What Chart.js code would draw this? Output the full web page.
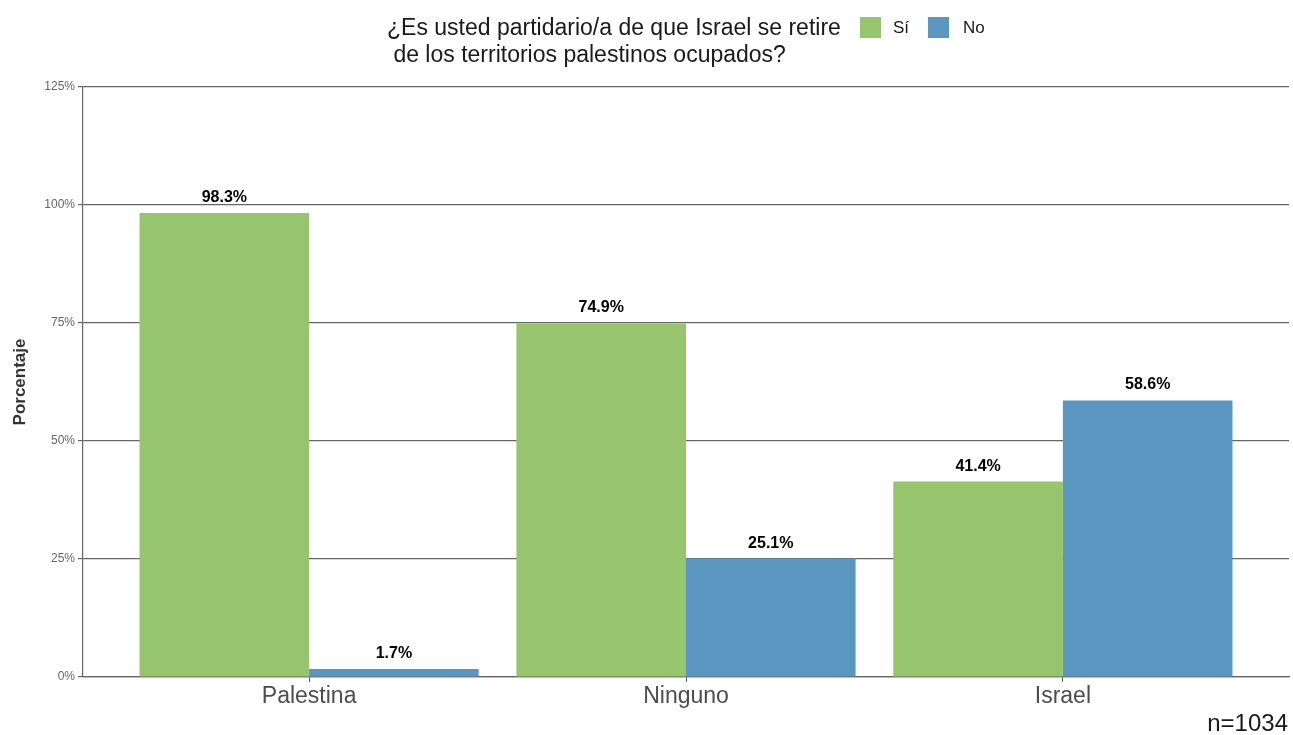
<!DOCTYPE html>
<html>
<head>
<meta charset="utf-8">
<script src="https://cdn.jsdelivr.net/npm/chart.js@4.4.1/dist/chart.umd.min.js"></script>
<style>
  html, body { margin: 0; padding: 0; background: #ffffff; }
  #wrap { width: 1293px; height: 735px; position: relative; }
</style>
</head>
<body>
<div id="wrap"><canvas id="c" width="1293" height="735"></canvas></div>
<script>
const categories = ['Palestina', 'Ninguno', 'Israel'];
const seriesNames = ['Sí', 'No'];
const siValues = [98.3, 74.9, 41.4];
const noValues = [1.7, 25.1, 58.6];
const yTicks = [0, 25, 50, 75, 100, 125];
const titleLines = ['¿Es usted partidario/a de que Israel se retire', ' de los territorios palestinos ocupados?'];
const caption = 'n=1034';
const yTitle = 'Porcentaje';

const colors = ['#97c46f', '#5b96c1'];
const FONT = '"Liberation Sans", Arial, sans-serif';

const headerPlugin = {
  id: 'header',
  afterDraw(chart) {
    const ctx = chart.ctx;
    ctx.save();
    ctx.fillStyle = '#1a1a1a';
    ctx.font = '23px ' + FONT;
    ctx.textAlign = 'left';
    ctx.textBaseline = 'alphabetic';
    ctx.fillText(titleLines[0], 387, 35);
    ctx.fillText(titleLines[1], 387, 62);
    // legend
    const items = [
      { box: 860, text: 893, label: seriesNames[0], color: colors[0] },
      { box: 928, text: 963, label: seriesNames[1], color: colors[1] }
    ];
    ctx.font = '17px ' + FONT;
    ctx.textBaseline = 'middle';
    items.forEach(it => {
      ctx.fillStyle = it.color;
      ctx.fillRect(it.box, 17, 21, 21);
      ctx.fillStyle = '#1a1a1a';
      ctx.fillText(it.label, it.text, 28);
    });
    // caption
    ctx.font = '24px ' + FONT;
    ctx.textAlign = 'right';
    ctx.textBaseline = 'alphabetic';
    ctx.fillStyle = '#1a1a1a';
    ctx.fillText(caption, 1288, 731);
    ctx.restore();
  }
};

const valueLabels = {
  id: 'valueLabels',
  afterDatasetsDraw(chart) {
    const ctx = chart.ctx;
    ctx.save();
    ctx.font = 'bold 16px ' + FONT;
    ctx.fillStyle = '#000000';
    ctx.textAlign = 'center';
    ctx.textBaseline = 'alphabetic';
    chart.data.datasets.forEach((ds, di) => {
      const meta = chart.getDatasetMeta(di);
      meta.data.forEach((bar, i) => {
        const v = ds.data[i].y;
        ctx.fillText(v.toFixed(1) + '%', bar.x, bar.y - 11);
      });
    });
    ctx.restore();
  }
};

const toPoints = arr => arr.map((v, i) => ({ x: i + 1, y: v }));

new Chart(document.getElementById('c'), {
  type: 'bar',
  data: {
    datasets: [
      { label: seriesNames[0], data: toPoints(siValues), backgroundColor: colors[0], categoryPercentage: 0.9, barPercentage: 1.0 },
      { label: seriesNames[1], data: toPoints(noValues), backgroundColor: colors[1], categoryPercentage: 0.9, barPercentage: 1.0 }
    ]
  },
  options: {
    responsive: false,
    animation: false,
    layout: { padding: { top: 87, right: 4, left: 0, bottom: 0 } },
    plugins: {
      legend: { display: false },
      tooltip: { enabled: false }
    },
    scales: {
      x: {
        type: 'linear',
        offset: false,
        min: 0.4,
        max: 3.6,
        afterBuildTicks(scale) {
          scale.ticks = categories.map((c, i) => ({ value: i + 1 }));
        },
        afterFit(scale) { scale.height = 58; },
        ticks: {
          callback: (v) => categories[Math.round(v) - 1] || '',
          color: '#4d4d4d',
          font: { family: FONT, size: 23 },
          padding: 1
        },
        grid: { display: true, offset: false, drawOnChartArea: false, drawTicks: true, tickLength: 5, color: '#555555', lineWidth: 1 },
        border: { display: true, color: '#666666', width: 1.2 }
      },
      y: {
        min: 0,
        max: 125,
        afterBuildTicks(scale) {
          scale.ticks = yTicks.map(v => ({ value: v }));
        },
        afterFit(scale) { scale.width = 83; },
        ticks: {
          callback: (v) => v + '%',
          color: '#666666',
          font: { family: FONT, size: 12 },
          padding: 3
        },
        grid: { color: '#666666', lineWidth: 1.2, tickLength: 5 },
        border: { display: true, color: '#666666', width: 1.2 },
        title: {
          display: true,
          text: yTitle,
          color: '#333333',
          font: { family: FONT, size: 17, weight: 'bold' },
          padding: { top: 10, bottom: 0 }
        }
      }
    }
  },
  plugins: [valueLabels, headerPlugin]
});
</script>
</body>
</html>
